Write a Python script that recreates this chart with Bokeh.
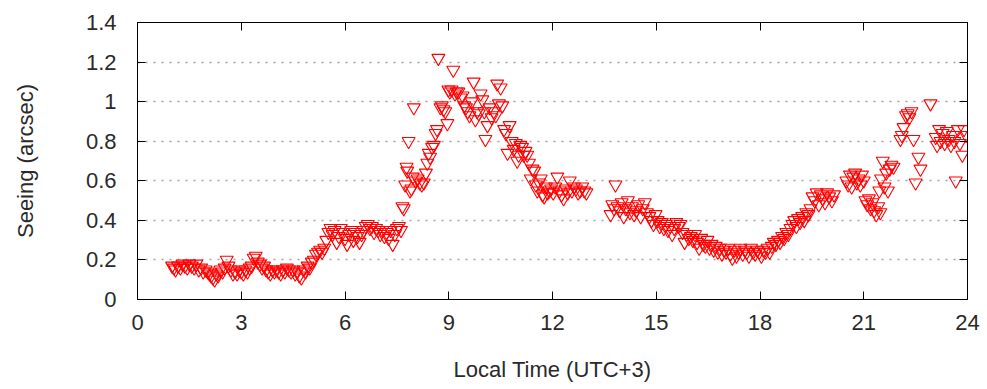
from bokeh.plotting import figure
from bokeh.models import FixedTicker, LinearAxis, Range1d
from bokeh.embed import file_html
from bokeh.resources import INLINE

# ---- data (hour of local time, seeing in arcsec) ----
hours_a = [1.00,1.05,1.10,1.17,1.24,1.30,1.37,1.44,1.50,1.57,1.64,1.70,1.77,1.84,1.90,1.97]
seeing_a = [0.17,0.16,0.15,0.17,0.16,0.18,0.17,0.16,0.18,0.17,0.16,0.18,0.15,0.16,0.14,0.15]
hours_b = [2.03,2.08,2.13,2.18,2.23,2.28,2.33,2.40,2.46,2.52,2.58,2.63,2.70,2.76,2.82,2.88,2.94,3.00]
seeing_b = [0.14,0.13,0.12,0.11,0.10,0.13,0.12,0.15,0.14,0.16,0.20,0.17,0.15,0.13,0.14,0.13,0.15,0.14]
hours_c = [3.06,3.12,3.18,3.24,3.30,3.36,3.42,3.48,3.54,3.60,3.66,3.72,3.78,3.84,3.90,3.96]
seeing_c = [0.13,0.15,0.14,0.16,0.17,0.21,0.22,0.19,0.18,0.16,0.17,0.15,0.14,0.13,0.15,0.14]
hours_d = [4.02,4.08,4.14,4.20,4.26,4.32,4.38,4.44,4.50,4.56,4.62,4.68,4.74,4.80,4.86,4.92,4.98]
seeing_d = [0.15,0.14,0.13,0.15,0.14,0.16,0.15,0.14,0.15,0.13,0.14,0.12,0.11,0.15,0.14,0.17,0.16]
hours_e = [5.04,5.10,5.16,5.22,5.28,5.34,5.40,5.46,5.52,5.58,5.64,5.70,5.76,5.82,5.88,5.94]
seeing_e = [0.19,0.20,0.23,0.24,0.25,0.24,0.26,0.30,0.34,0.36,0.33,0.35,0.29,0.32,0.36,0.34]
hours_f = [6.00,6.06,6.12,6.18,6.24,6.30,6.36,6.42,6.48,6.54,6.60,6.66,6.72,6.78,6.84,6.90,6.96]
seeing_f = [0.31,0.28,0.33,0.35,0.30,0.34,0.32,0.29,0.33,0.35,0.37,0.38,0.36,0.37,0.34,0.36,0.35]
hours_g = [7.02,7.08,7.14,7.20,7.26,7.32,7.38,7.44,7.50,7.56,7.62,7.66,7.70,7.74,7.78,7.80,7.84,7.88,7.92,7.96,7.99]
seeing_g = [0.33,0.35,0.32,0.34,0.31,0.35,0.28,0.33,0.36,0.37,0.35,0.47,0.46,0.58,0.67,0.65,0.80,0.55,0.56,0.62,0.97]
hours_h = [8.04,8.10,8.16,8.22,8.28,8.34,8.38,8.42,8.46,8.52,8.57,8.62,8.66,8.70,8.76,8.80,8.85,8.90,8.96,8.99]
seeing_h = [0.60,0.61,0.59,0.58,0.59,0.64,0.69,0.74,0.72,0.77,0.78,0.84,0.86,1.22,0.97,0.98,0.96,0.95,0.89,1.06]
hours_i = [9.03,9.08,9.13,9.18,9.23,9.28,9.34,9.40,9.45,9.50,9.55,9.60,9.66,9.72,9.77,9.82,9.87,9.92,9.97]
seeing_i = [1.05,1.06,1.16,1.04,1.05,1.05,1.02,1.03,0.98,0.97,0.95,0.93,1.00,1.10,0.91,0.95,0.94,1.04,1.01]
hours_j = [10.03,10.06,10.12,10.18,10.24,10.30,10.36,10.40,10.45,10.50,10.55,10.60,10.65,10.70,10.76,10.82,10.88,10.94,10.98]
seeing_j = [0.95,0.81,0.88,0.97,0.92,0.95,0.93,1.09,0.99,1.07,0.98,0.86,0.84,0.74,0.88,0.80,0.76,0.79,0.70]
hours_k = [11.02,11.07,11.12,11.17,11.22,11.27,11.32,11.37,11.42,11.47,11.52,11.56,11.61,11.66,11.71,11.76,11.81,11.86,11.91,11.96]
seeing_k = [0.73,0.78,0.77,0.73,0.75,0.73,0.69,0.61,0.66,0.65,0.58,0.55,0.59,0.61,0.53,0.52,0.57,0.54,0.55,0.56]
hours_l = [12.02,12.08,12.14,12.20,12.26,12.32,12.38,12.44,12.50,12.56,12.62,12.68,12.74,12.80,12.86,12.92,12.98]
seeing_l = [0.54,0.57,0.62,0.55,0.53,0.51,0.56,0.54,0.60,0.55,0.57,0.56,0.54,0.55,0.57,0.55,0.54]
hours_m = [13.68,13.73,13.78,13.82,13.88,13.94,14.00,14.06,14.12,14.18,14.24,14.30,14.36,14.42,14.48,14.55,14.61,14.67,14.73,14.80,14.86,14.92,14.98]
seeing_m = [0.43,0.48,0.46,0.58,0.47,0.45,0.49,0.42,0.46,0.50,0.44,0.47,0.43,0.45,0.48,0.42,0.46,0.49,0.44,0.42,0.40,0.38,0.43]
hours_n = [15.04,15.10,15.16,15.22,15.28,15.34,15.40,15.46,15.52,15.58,15.64,15.70,15.76,15.82,15.88,15.94]
seeing_n = [0.40,0.37,0.39,0.36,0.38,0.35,0.37,0.33,0.36,0.39,0.37,0.38,0.34,0.29,0.33,0.31]
hours_o = [16.00,16.06,16.12,16.18,16.24,16.30,16.36,16.42,16.48,16.54,16.60,16.66,16.72,16.78,16.84,16.90,16.96]
seeing_o = [0.32,0.30,0.33,0.29,0.26,0.31,0.28,0.27,0.30,0.26,0.28,0.25,0.27,0.24,0.26,0.23,0.25]
hours_p = [17.02,17.08,17.14,17.20,17.26,17.32,17.38,17.44,17.50,17.56,17.62,17.68,17.74,17.80,17.86,17.92,17.98]
seeing_p = [0.24,0.26,0.23,0.21,0.25,0.22,0.24,0.26,0.23,0.25,0.24,0.22,0.26,0.24,0.23,0.25,0.24]
hours_q = [18.04,18.10,18.16,18.22,18.28,18.34,18.40,18.46,18.52,18.58,18.64,18.70,18.76,18.82,18.88,18.94,18.99]
seeing_q = [0.22,0.25,0.24,0.26,0.24,0.27,0.29,0.28,0.30,0.29,0.32,0.31,0.34,0.33,0.36,0.38,0.40]
hours_r = [19.05,19.10,19.16,19.22,19.28,19.34,19.40,19.46,19.52,19.58,19.64,19.70,19.76,19.82,19.88,19.94,20.00,20.08,20.14]
seeing_r = [0.37,0.41,0.39,0.42,0.40,0.44,0.43,0.46,0.52,0.50,0.54,0.48,0.53,0.51,0.49,0.54,0.52,0.50,0.53]
hours_s = [20.50,20.55,20.60,20.65,20.70,20.75,20.80,20.85,20.90,20.95,21.00,21.05,21.10,21.15,21.20,21.25,21.30,21.36,21.42,21.48]
seeing_s = [0.60,0.58,0.63,0.57,0.62,0.64,0.59,0.61,0.58,0.63,0.60,0.50,0.48,0.51,0.46,0.49,0.45,0.43,0.47,0.44]
hours_t = [21.45,21.50,21.55,21.60,21.65,21.70,21.75,21.80,21.86,22.06,22.10,22.15,22.22,22.27,22.32,22.38,22.44,22.50,22.58,22.64]
seeing_t = [0.55,0.61,0.70,0.57,0.64,0.55,0.66,0.68,0.67,0.81,0.83,0.87,0.93,0.94,0.92,0.95,0.81,0.59,0.72,0.66]
hours_u = [22.93,23.08,23.12,23.18,23.22,23.28,23.34,23.40,23.46,23.52,23.58,23.62,23.66,23.72,23.78,23.85,23.90,23.96]
seeing_u = [0.99,0.82,0.78,0.86,0.80,0.84,0.79,0.85,0.81,0.78,0.83,0.80,0.60,0.86,0.79,0.73,0.86,0.83]

x_ticks = [0, 3, 6, 9, 12, 15, 18, 21, 24]
y_ticks = [0, 0.2, 0.4, 0.6, 0.8, 1, 1.2, 1.4]
y_tick_labels = ["0", "0.2", "0.4", "0.6", "0.8", "1", "1.2", "1.4"]
grid_levels = [0.2, 0.4, 0.6, 0.8, 1, 1.2]

hours = (hours_a + hours_b + hours_c + hours_d + hours_e + hours_f + hours_g + hours_h +
         hours_i + hours_j + hours_k + hours_l + hours_m + hours_n + hours_o + hours_p +
         hours_q + hours_r + hours_s + hours_t + hours_u)
seeing = (seeing_a + seeing_b + seeing_c + seeing_d + seeing_e + seeing_f + seeing_g + seeing_h +
          seeing_i + seeing_j + seeing_k + seeing_l + seeing_m + seeing_n + seeing_o + seeing_p +
          seeing_q + seeing_r + seeing_s + seeing_t + seeing_u)

FONT = "Liberation Sans"
TXT = "#2a2a2a"
FS = "22px"

p = figure(width=987, height=389, output_backend="svg", toolbar_location=None,
           x_range=Range1d(0, 24), y_range=Range1d(0, 1.4),
           min_border_left=137, min_border_right=20, min_border_top=22, min_border_bottom=90,
           background_fill_color="white", border_fill_color="white")
p.outline_line_color = "black"
p.outline_line_width = 1

p.scatter(hours, seeing, marker="inverted_triangle", size=13, fill_color=None,
          line_color="#ff0000", line_width=1.1)

labels = {v: s for v, s in zip(y_ticks, y_tick_labels)}

def style_axis(ax, show_labels):
    ax.axis_line_color = "black"
    ax.major_tick_line_color = "black"
    ax.major_tick_in = 8
    ax.major_tick_out = 0
    ax.minor_tick_line_color = None
    ax.major_label_text_font = FONT
    ax.major_label_text_font_size = FS if show_labels else "0px"
    ax.major_label_text_color = TXT
    ax.axis_label_text_font = FONT
    ax.axis_label_text_font_size = FS
    ax.axis_label_text_font_style = "normal"
    ax.axis_label_text_color = TXT

p.xaxis.ticker = FixedTicker(ticks=x_ticks)
p.yaxis.ticker = FixedTicker(ticks=y_ticks)
p.yaxis.major_label_overrides = labels
p.xaxis.axis_label = "Local Time (UTC+3)"
p.yaxis.axis_label = "Seeing (arcsec)"
style_axis(p.xaxis[0], True)
style_axis(p.yaxis[0], True)
p.xaxis.major_label_standoff = 15
p.yaxis.major_label_standoff = 21
p.xaxis.axis_label_standoff = 24
p.yaxis.axis_label_standoff = 45

top = LinearAxis(ticker=FixedTicker(ticks=x_ticks), major_label_standoff=0)
right = LinearAxis(ticker=FixedTicker(ticks=y_ticks), major_label_standoff=0)
style_axis(top, False)
style_axis(right, False)
p.add_layout(top, "above")
p.add_layout(right, "right")

p.xgrid.grid_line_color = None
p.ygrid.ticker = FixedTicker(ticks=grid_levels)
p.ygrid.grid_line_color = "#a0a0a0"
p.ygrid.grid_line_dash = "2 6"
p.ygrid.grid_line_width = 1.5

open("out.html", "w").write(file_html(p, INLINE))
